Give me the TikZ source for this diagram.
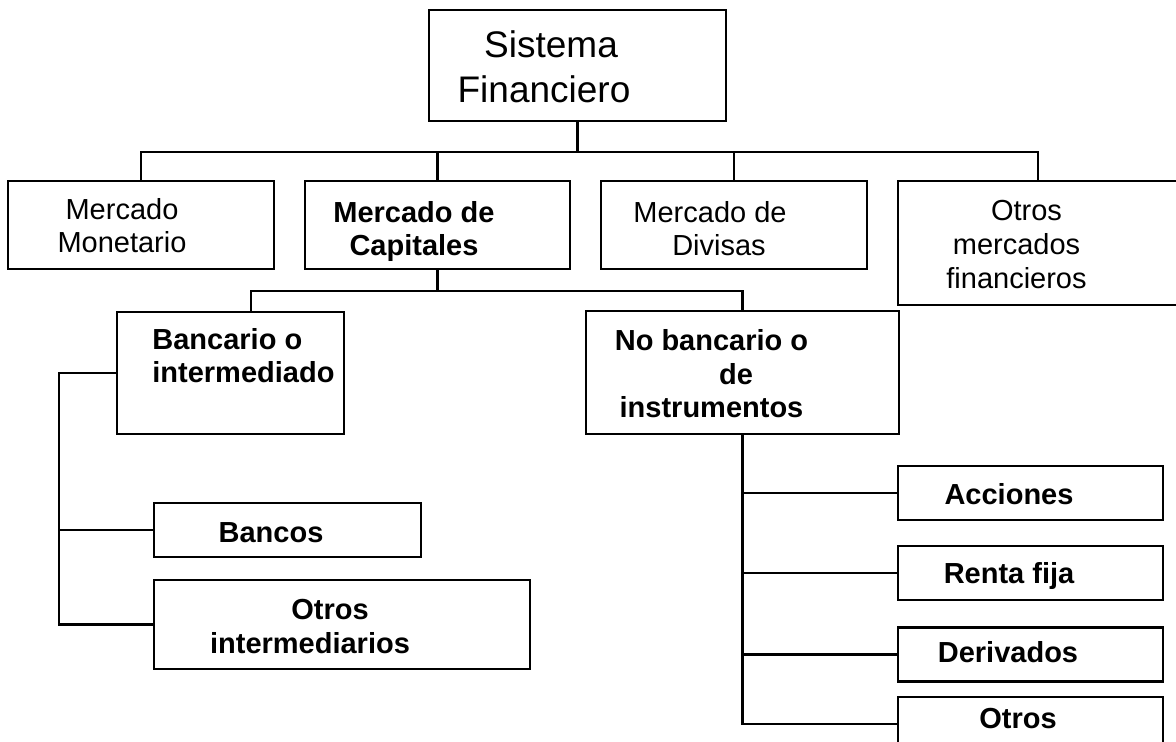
\documentclass[tikz,border=0pt]{standalone}
\usepackage{fontspec}
\setmainfont{Liberation Sans}
\usepackage{tikz}
\usetikzlibrary{positioning}
\tikzset{box/.style={draw,line width=1.1pt,inner sep=0pt},
	 txt/.style={inner sep=0pt,align=center,anchor=base,font=\fontsize{14.5}{16.75}\selectfont},
	 btxt/.style={txt,font=\fontsize{14.5}{16.75}\selectfont\bfseries},
	 conn/.style={line width=1.1pt}
	 }

\begin{document}
\begin{tikzpicture}[x=0.5pt,y=-0.5pt] % Sistema financiero
	\useasboundingbox (0,0) rectangle (1176,742);
	% boxes
	\node[box,minimum width=148.5pt,minimum height=55.5pt] (sis) at (577.5,65.5) {};
	\node[box,minimum width=133pt,minimum height=44pt] (mon) at (141,225) {};
	\node[box,minimum width=132.5pt,minimum height=44pt] (cap) at (437.5,225) {};
	\node[box,minimum width=133pt,minimum height=44pt] (div) at (734,225) {};
	\node[box,minimum width=140pt,minimum height=62pt] (otm) at (1038,243) {};
	\node[box,minimum width=113.5pt,minimum height=61pt] (ban) at (230.5,373) {};
	\node[box,minimum width=156.5pt,minimum height=61.5pt] (nob) at (742.5,372.5) {};
	\node[box,minimum width=133.5pt,minimum height=27pt] (bco) at (287.5,530) {};
	\node[box,minimum width=188pt,minimum height=44.5pt] (oin) at (342,624.5) {};
	\node[box,minimum width=132.5pt,minimum height=27pt] (acc) at (1030.5,493) {};
	\node[box,minimum width=132.5pt,minimum height=27pt] (ren) [below=12pt of acc] {};
	\node[box,minimum width=132.5pt,minimum height=27pt] (der) [below=12.5pt of ren] {};
	\node[box,minimum width=132.5pt,minimum height=27pt] (otr) [below=6.5pt of der] {};
	% texts (base = last line)
	\node[txt,font=\fontsize{18.5}{22.5}\selectfont] (tsis) at (544,103) {\hspace*{7pt}Sistema\\Financiero};
	\node[txt] (tmon) at (122,253) {Mercado\\Monetario};
	\node[btxt] (tcap) at (414,256) {Mercado de\\Capitales};
	\node[txt] (tdiv) at (710,256) {Mercado de\\\hspace*{9pt}Divisas};
	\node[txt,font=\fontsize{14.5}{17}\selectfont] (totm) at (1016.5,289) {\hspace*{10pt}Otros\\mercados\\financieros};
	\node[btxt,align=left,anchor=base west] (tban) at (152,383) {Bancario o\\intermediado};
	\node[btxt] (tnob) at (711.5,418) {No bancario o\\\hspace*{24.5pt}de\\instrumentos};
	\node[btxt] (tbco) at (271,542) {Bancos};
	\node[btxt] (toin) at (310,653) {\hspace*{20pt}Otros\\intermediarios};
	\node[btxt] (tacc) at (1009,504) {Acciones};
	\node[btxt] (tren) at (1009,583) {Renta fija};
	\node[btxt] (tder) at (1008,662) {Derivados};
	\node[btxt] (totr) at (1018,728) {Otros};
	% connectors
	\coordinate (h1) at (0,152);
	\coordinate (h2) at (0,291);
	\coordinate (lv) at (59,0);
	\draw[conn] (sis.south) -- (sis.south |- h1);
	\draw[conn] (mon.north) -- (mon.north |- h1) -- (otm.north |- h1) -- (otm.north);
	\draw[conn] (cap.north) -- (cap.north |- h1); \draw[conn] (div.north) -- (div.north |- h1);
	\draw[conn] (cap.south) -- (cap.south |- h2);
	\draw[conn] ([xshift=10.25pt]ban.north) |- (nob.north |- h2) -- (nob.north);
	\draw[conn] (ban.west) -- (ban.west -| lv) |- (oin.west);
	\draw[conn] (bco.west) -- (bco.west -| lv);
	\draw[conn] (nob.south) |- (otr.west);
	\draw[conn] (acc.west) -- (acc.west -| nob.south);
	\draw[conn] (ren.west) -- (ren.west -| nob.south);
	\draw[conn] (der.west) -- (der.west -| nob.south);
\end{tikzpicture}
\end{document}
